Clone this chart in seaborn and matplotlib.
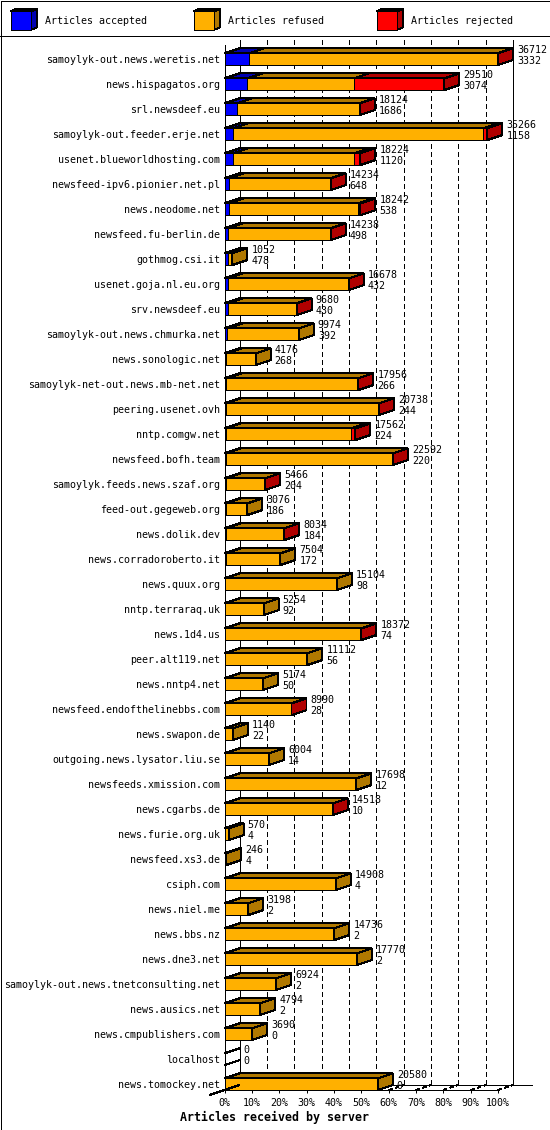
import matplotlib
matplotlib.use("Agg")
import matplotlib.pyplot as plt
import seaborn as sns
import pandas as pd
from matplotlib.patches import Polygon, Rectangle

# ---------------- data ----------------
hosts = [
    "samoylyk-out.news.weretis.net", "news.hispagatos.org", "srl.newsdeef.eu",
    "samoylyk-out.feeder.erje.net", "usenet.blueworldhosting.com",
    "newsfeed-ipv6.pionier.net.pl", "news.neodome.net", "newsfeed.fu-berlin.de",
    "gothmog.csi.it", "usenet.goja.nl.eu.org", "srv.newsdeef.eu",
    "samoylyk-out.news.chmurka.net", "news.sonologic.net",
    "samoylyk-net-out.news.mb-net.net", "peering.usenet.ovh", "nntp.comgw.net",
    "newsfeed.bofh.team", "samoylyk.feeds.news.szaf.org", "feed-out.gegeweb.org",
    "news.dolik.dev", "news.corradoroberto.it", "news.quux.org",
    "nntp.terraraq.uk", "news.1d4.us", "peer.alt119.net", "news.nntp4.net",
    "newsfeed.endofthelinebbs.com", "news.swapon.de",
    "outgoing.news.lysator.liu.se", "newsfeeds.xmission.com", "news.cgarbs.de",
    "news.furie.org.uk", "newsfeed.xs3.de", "csiph.com", "news.niel.me",
    "news.bbs.nz", "news.dne3.net", "samoylyk-out.news.tnetconsulting.net",
    "news.ausics.net", "news.cmpublishers.com", "localhost", "news.tomockey.net",
]
accepted = [3332, 3074, 1686, 1158, 1120, 648, 538, 498, 478, 432, 430, 392, 268,
            266, 244, 224, 220, 204, 186, 184, 172, 98, 92, 74, 56, 50, 28, 22,
            14, 12, 10, 4, 4, 4, 2, 2, 2, 2, 2, 0, 0, 0]
refused = [33200, 14346, 16408, 33548, 16304, 13546, 17404, 13710, 574, 16216,
           9220, 9582, 3908, 17670, 20474, 16688, 22352, 5242, 2890, 7830, 7332,
           15006, 5162, 18278, 11056, 5124, 8952, 1118, 5990, 17686, 14498, 566,
           242, 14904, 3196, 14734, 17768, 6922, 4792, 3690, 0, 20580]
rejected = [180, 12090, 30, 560, 800, 40, 300, 30, 0, 30, 30, 0, 0, 20, 20, 650,
            20, 20, 0, 20, 0, 0, 0, 20, 0, 0, 10, 0, 0, 0, 10, 0, 0, 0, 0, 0, 0,
            0, 0, 0, 0, 0]
pct_ticks = [0, 10, 20, 30, 40, 50, 60, 70, 80, 90, 100]
pct_labels = ["0%", "10%", "20%", "30%", "40%", "50%", "60%", "70%", "80%", "90%", "100%"]
legend_labels = ["Articles accepted", "Articles refused", "Articles rejected"]
x_title = "Articles received by server"

# ---------------- style ----------------
C_FRONT = ["#0000FF", "#FFB000", "#FF0000"]
C_DARK = ["#0000B0", "#B07800", "#B00000"]
LW = 0.72
FS = 7.2

sns.set_theme(style="white")
plt.rcParams["font.family"] = ["DejaVu Sans Mono", "DejaVu Sans"]
plt.rcParams["lines.antialiased"] = False
plt.rcParams["patch.antialiased"] = False

W, H = 550, 1130
fig = plt.figure(figsize=(W / 100, H / 100), dpi=100)

X0, X1 = 224.5, 498.1          # front plane 0% / 100% (px)
YT, YB = 45.0, 1090.0          # front plane top / floor (px)
ROW0, PITCH = 59.2, 25.0
ax = fig.add_axes([X0 / W, 1 - YB / H, (X1 - X0) / W, (YB - YT) / H])
ax.patch.set_alpha(0)

n = len(hosts)
totals = [a + r + j for a, r, j in zip(accepted, refused, rejected)]
vmax = max(totals)
acc_pct = [a / vmax * 100 for a in accepted]
ar_pct = [(a + r) / vmax * 100 for a, r in zip(accepted, refused)]
tot_pct = [t / vmax * 100 for t in totals]

df = pd.DataFrame({"host": hosts, "acc": acc_pct, "accref": ar_pct, "tot": tot_pct})

BW = 11.7 / PITCH
for col, c in [("tot", C_FRONT[2]), ("accref", C_FRONT[1]), ("acc", C_FRONT[0])]:
    sns.barplot(data=df, y="host", x=col, order=hosts, orient="h", color=c,
                saturation=1, width=BW, edgecolor="black", linewidth=LW,
                errorbar=None, ax=ax, zorder=3)

ylim_top = -(ROW0 - YT) / PITCH
ylim_bot = (YB - ROW0) / PITCH
ax.set_xlim(0, 100)
ax.set_ylim(ylim_bot, ylim_top)
for s in ax.spines.values():
    s.set_visible(False)
ax.set_xlabel("")
ax.set_ylabel("")

sx = 100.0 / (X1 - X0)
DX = 15 * sx
DY = -5 / PITCH

# 3D top and side faces
for i in range(n):
    yt = i - BW / 2
    yb = i + BW / 2
    segs = [(0, acc_pct[i], C_DARK[0]), (acc_pct[i], ar_pct[i], C_DARK[1]),
            (ar_pct[i], tot_pct[i], C_DARK[2])]
    last = None
    for a, b, c in segs:
        if b > a:
            ax.add_patch(Polygon([(a, yt), (b, yt), (b + DX, yt + DY), (a + DX, yt + DY)],
                                 closed=True, facecolor=c, edgecolor="black",
                                 linewidth=LW, zorder=3, clip_on=False))
            last = c
    e = tot_pct[i]
    if last is None:
        ax.plot([0, DX], [yt, yt + DY], color="black", lw=LW, zorder=3, clip_on=False)
        ax.plot([0, DX], [yb, yb + DY], color="black", lw=LW, zorder=3, clip_on=False)
    else:
        ax.add_patch(Polygon([(e, yt), (e, yb), (e + DX, yb + DY), (e + DX, yt + DY)],
                             closed=True, facecolor=last, edgecolor="black",
                             linewidth=LW, zorder=3, clip_on=False))
    tx = e + DX + 4 * sx
    ax.text(tx, i - 9.2 / PITCH, str(totals[i]), ha="left", va="center",
            fontsize=FS, color="black", zorder=5, clip_on=False)
    ax.text(tx, i + 1.8 / PITCH, str(accepted[i]), ha="left", va="center",
            fontsize=FS, color="black", zorder=5, clip_on=False)

# walls / grid
y_back_top = ylim_top + DY
y_back_floor = ylim_bot + DY
for k in pct_ticks[1:-1]:
    ax.plot([k + DX, k + DX], [y_back_top, y_back_floor], color="black", lw=LW,
            linestyle=(0, (5, 3)), zorder=1, clip_on=False)
    ax.plot([k, k + DX], [ylim_bot, y_back_floor], color="black", lw=LW,
            linestyle=(0, (4, 4)), zorder=1, clip_on=False)
ax.plot([100, 100 + DX], [ylim_bot, y_back_floor], color="black", lw=LW,
        linestyle=(0, (4, 4)), zorder=1, clip_on=False)
ax.plot([DX, DX], [y_back_top, y_back_floor], color="black", lw=LW, zorder=1, clip_on=False)
ax.plot([100 + DX, 100 + DX], [y_back_top, y_back_floor], color="black", lw=LW,
        zorder=1, clip_on=False)
ax.plot([0, 0], [ylim_top, ylim_bot], color="black", lw=LW, zorder=4, clip_on=False)
ax.plot([0, 100], [ylim_bot, ylim_bot], color="black", lw=LW, zorder=4, clip_on=False)
ax.plot([DX, 112.4], [y_back_floor, y_back_floor], color="black", lw=LW, zorder=1,
        clip_on=False)
ax.plot([-DX, DX], [ylim_bot - DY, y_back_floor], color="black", lw=LW, zorder=4,
        clip_on=False)

ax.set_xticks(pct_ticks)
ax.set_xticklabels(pct_labels)
ax.set_yticks(range(n))
ax.set_yticklabels(hosts)
ax.tick_params(axis="x", which="both", bottom=True, direction="out", length=2.2,
               width=LW, color="black", pad=3.4, labelsize=FS, labelcolor="black")
ax.tick_params(axis="y", which="both", left=False, length=0, pad=3.0,
               labelsize=FS, labelcolor="black")
ax.grid(False)

# ---------------- overlay: frame, legend, title ----------------
ov = fig.add_axes([0, 0, 1, 1], zorder=-1)
ov.set_xlim(0, W)
ov.set_ylim(H, 0)
ov.axis("off")
ov.add_patch(Rectangle((0.5, 0.5), W - 1, H - 1, fill=False, edgecolor="black", linewidth=LW))
ov.plot([0, W], [35.5, 35.5], color="black", lw=LW)

leg_x = [10.5, 193.5, 376.5]
txt_x = [44.6, 227.7, 410.9]
bx_w, bx_h, ldx, ldy = 20.5, 18.5, 6.3, -2.6
by = 11.3
for j in range(3):
    x = leg_x[j]
    ov.add_patch(Polygon([(x, by), (x + bx_w, by), (x + bx_w + ldx, by + ldy), (x + ldx, by + ldy)],
                         closed=True, facecolor=C_DARK[j], edgecolor="black", linewidth=LW))
    ov.add_patch(Polygon([(x + bx_w, by), (x + bx_w, by + bx_h), (x + bx_w + ldx, by + bx_h + ldy),
                          (x + bx_w + ldx, by + ldy)],
                         closed=True, facecolor=C_DARK[j], edgecolor="black", linewidth=LW))
    ov.add_patch(Rectangle((x, by), bx_w, bx_h, facecolor=C_FRONT[j], edgecolor="black",
                           linewidth=LW))
    ov.text(txt_x[j], 21, legend_labels[j], ha="left", va="center", fontsize=FS, color="black")

ov.text(274.5, 1117, x_title, ha="center", va="center", fontsize=8.4, fontweight="bold",
        color="black")

fig.savefig("out.png", dpi=100, facecolor="white")
